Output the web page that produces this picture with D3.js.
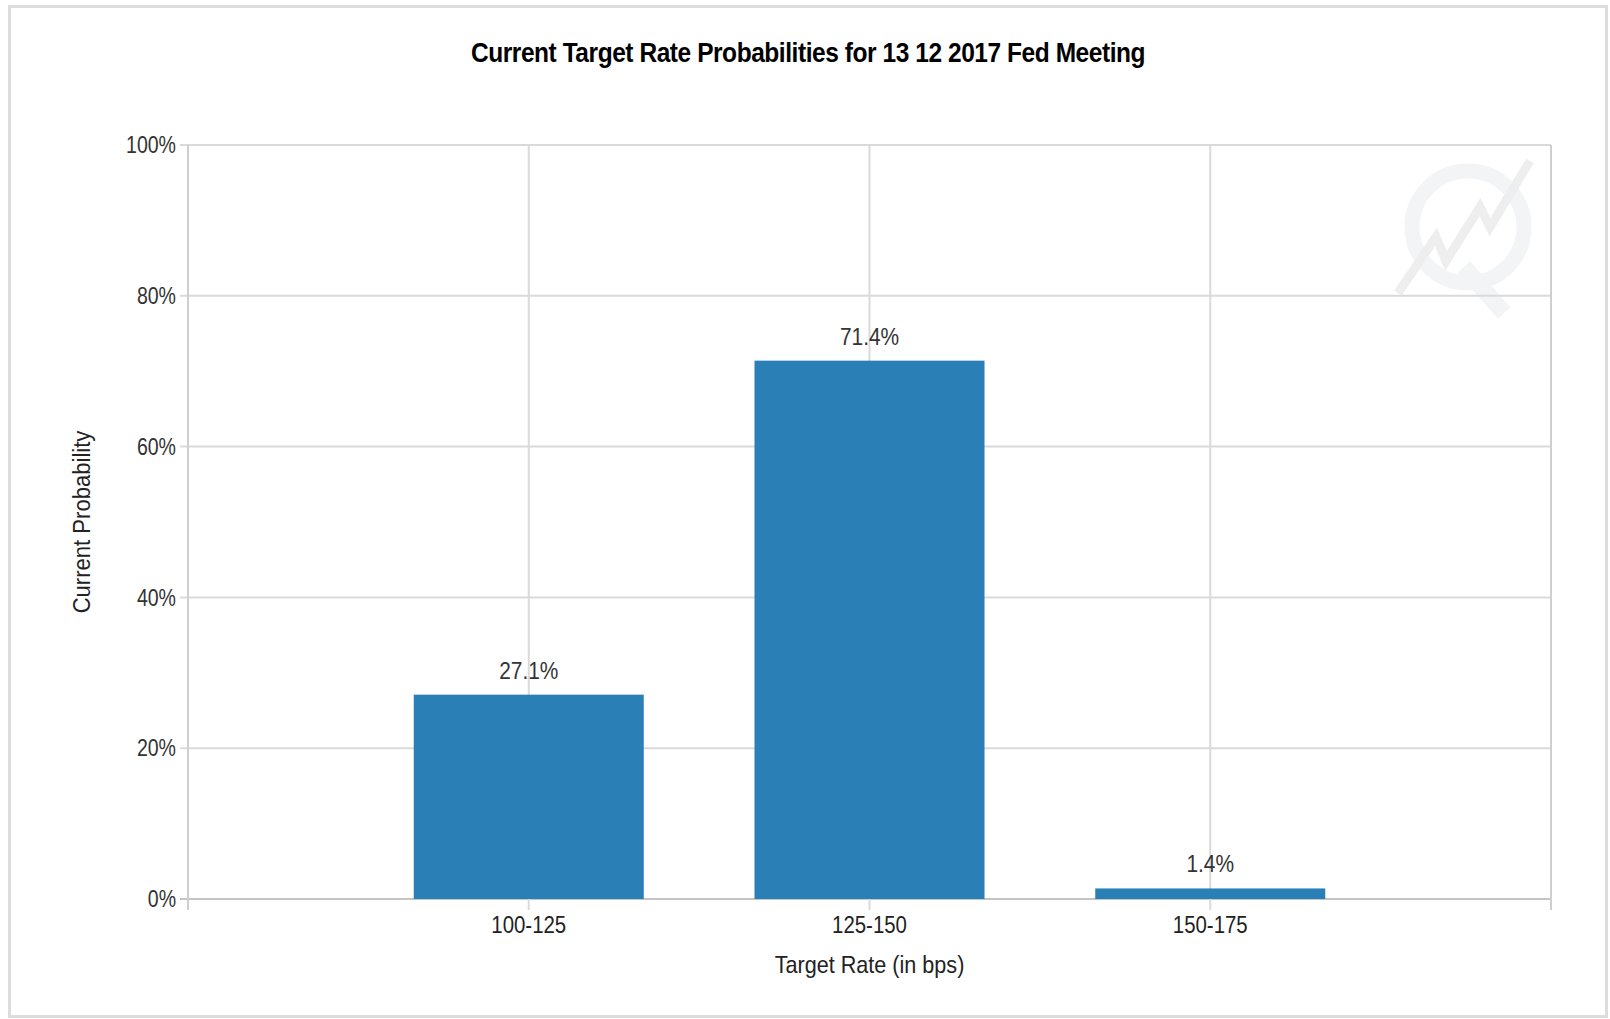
<!DOCTYPE html>
<html>
<head>
<meta charset="utf-8">
<script src="https://cdn.jsdelivr.net/npm/d3@7"></script>
<style>
  body { margin: 0; background: #fff; }
  svg text { font-family: "Liberation Sans", Arial, sans-serif; }
</style>
</head>
<body>
<div id="chart"></div>
<script>
// values
var categories = ["100-125", "125-150", "150-175"];
var probabilities = [27.1, 71.4, 1.4];
var yTicks = [0, 20, 40, 60, 80, 100];
var chartTitle = "Current Target Rate Probabilities for 13 12 2017 Fed Meeting";
var xTitle = "Target Rate (in bps)";
var yTitle = "Current Probability";

var W = 1610, H = 1019;
var margin = {top: 145, right: 59, bottom: 120, left: 188},
    width = W - margin.left - margin.right,
    height = H - margin.top - margin.bottom;

// the original uses a condensed face, so squeeze text horizontally
function place(px, py, sx) {
  return "translate(" + px + "," + py + ") scale(" + sx + ",1)";
}

var svg = d3.select("#chart").append("svg")
    .attr("width", W)
    .attr("height", H);

// outer frame
svg.append("rect")
    .attr("x", 9.5).attr("y", 6.5)
    .attr("width", 1597).attr("height", 1010)
    .attr("fill", "none")
    .attr("stroke", "#dcdcdc")
    .attr("stroke-width", 3);

svg.append("text")
    .attr("transform", place(808, 62, 0.875))
    .attr("text-anchor", "middle")
    .attr("font-size", "28px")
    .attr("font-weight", "bold")
    .attr("letter-spacing", "-0.5px")
    .attr("fill", "#000")
    .text(chartTitle);

var g = svg.append("g")
    .attr("transform", "translate(" + margin.left + "," + margin.top + ")");

var x = d3.scalePoint()
    .domain(categories)
    .range([0, width])
    .padding(1);

var y = d3.scaleLinear()
    .domain([0, 100])
    .range([height, 0]);

var barWidth = x.step() * 0.675;

// faint watermark logo (top right)
var logo = g.append("g")
    .attr("transform", "translate(" + (width - 83) + ",82)")
    .attr("fill", "none")
    .attr("stroke", "#f3f4f5");
logo.append("circle").attr("r", 56).attr("stroke-width", 15);
logo.append("path")
    .attr("d", "M-4,40 L36,86")
    .attr("stroke-width", 17);
logo.append("path")
    .attr("d", "M-70,66 L-32,10 L-22,34 L12,-20 L22,0 L62,-66")
    .attr("stroke", "#eeeeee")
    .attr("stroke-width", 9);

// horizontal gridlines
g.selectAll(".hgrid")
    .data(yTicks)
  .enter().append("line")
    .attr("class", "hgrid")
    .attr("x1", -8).attr("x2", width)
    .attr("y1", function(d) { return y(d); })
    .attr("y2", function(d) { return y(d); })
    .attr("stroke", function(d) { return d === 0 ? "#c4c4c4" : "#dadada"; })
    .attr("stroke-width", 2);

// vertical gridlines at categories
g.selectAll(".vgrid")
    .data(categories)
  .enter().append("line")
    .attr("class", "vgrid")
    .attr("x1", function(d) { return x(d); })
    .attr("x2", function(d) { return x(d); })
    .attr("y1", 0).attr("y2", height + 11)
    .attr("stroke", "#dadada")
    .attr("stroke-width", 2);

// left and right edges
g.selectAll(".edge")
    .data([0, width])
  .enter().append("line")
    .attr("class", "edge")
    .attr("x1", function(d) { return d; })
    .attr("x2", function(d) { return d; })
    .attr("y1", 0).attr("y2", height + 11)
    .attr("stroke", "#cfcfcf")
    .attr("stroke-width", 2);

// bars
g.selectAll(".bar")
    .data(probabilities)
  .enter().append("rect")
    .attr("class", "bar")
    .attr("x", function(d, i) { return x(categories[i]) - barWidth / 2; })
    .attr("width", barWidth)
    .attr("y", function(d) { return y(d); })
    .attr("height", function(d) { return height - y(d); })
    .attr("fill", "#2a7fb7");

// value labels
g.selectAll(".val")
    .data(probabilities)
  .enter().append("text")
    .attr("class", "val")
    .attr("transform", function(d, i) { return place(x(categories[i]), y(d) - 16, 0.87); })
    .attr("text-anchor", "middle")
    .attr("font-size", "24px")
    .attr("fill", "#333")
    .text(function(d) { return d.toFixed(1) + "%"; });

// y tick labels
g.selectAll(".ytick")
    .data(yTicks)
  .enter().append("text")
    .attr("class", "ytick")
    .attr("transform", function(d) { return place(-12, y(d), 0.85); })
    .attr("dy", "0.36em")
    .attr("text-anchor", "end")
    .attr("font-size", "23px")
    .attr("fill", "#333")
    .text(function(d) { return d + "%"; });

// x tick labels
g.selectAll(".xtick")
    .data(categories)
  .enter().append("text")
    .attr("class", "xtick")
    .attr("transform", function(d) { return place(x(d), height + 34, 0.85); })
    .attr("text-anchor", "middle")
    .attr("font-size", "24px")
    .attr("fill", "#222")
    .text(function(d) { return d; });

// axis titles
g.append("text")
    .attr("transform", place(width / 2, height + 74, 0.9))
    .attr("text-anchor", "middle")
    .attr("font-size", "24px")
    .attr("fill", "#222")
    .text(xTitle);

g.append("text")
    .attr("transform", "translate(" + (-98) + "," + (height / 2) + ") rotate(-90) scale(0.92,1)")
    .attr("text-anchor", "middle")
    .attr("font-size", "24px")
    .attr("fill", "#222")
    .text(yTitle);
</script>
</body>
</html>
